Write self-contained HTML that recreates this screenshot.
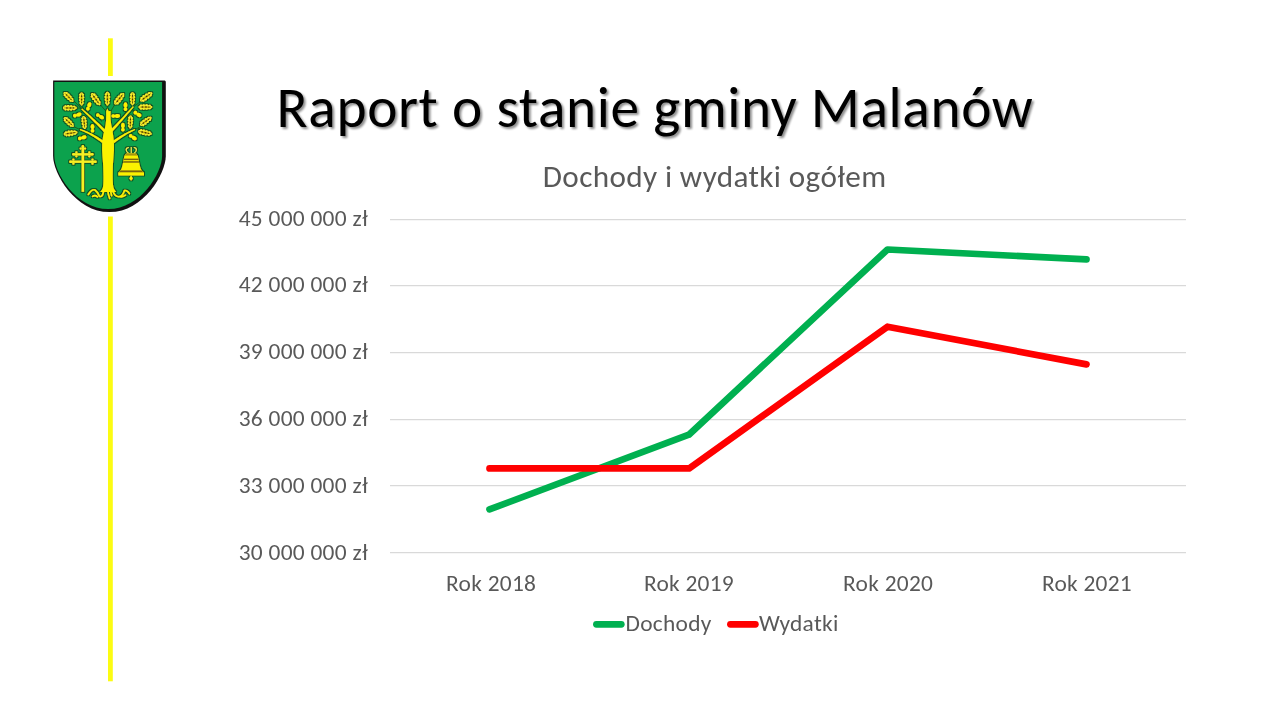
<!DOCTYPE html>
<html lang="pl">
<head>
<meta charset="utf-8">
<title>Raport o stanie gminy Malanów</title>
<style>
html,body{margin:0;padding:0;background:#fff;}
body{width:1280px;height:720px;position:relative;overflow:hidden;font-family:"Carlito","Liberation Sans",sans-serif;}
svg{position:absolute;left:0;top:0;will-change:transform;}
#main text{font-family:"Carlito","Liberation Sans",sans-serif;}
.t{font-size:57.3px;fill:#000;}
.c{font-size:31.2px;fill:#595959;}
.l{font-size:23.4px;fill:#595959;}
</style>
</head>
<body>
<svg id="main" width="1280" height="720" viewBox="0 0 1280 720">
  <defs>
    <filter id="sh" x="-5%" y="-20%" width="110%" height="150%">
      <feGaussianBlur in="SourceAlpha" stdDeviation="1.3"/>
      <feOffset dx="2" dy="2.2" result="b"/>
      <feComponentTransfer><feFuncA type="linear" slope="0.45"/></feComponentTransfer>
      <feMerge><feMergeNode/><feMergeNode in="SourceGraphic"/></feMerge>
    </filter>
  </defs>
  <!-- yellow vertical line -->
  <rect x="108" y="38.3" width="4.8" height="643" fill="#fcfc12"/>

  <!-- title -->
  <text class="t" x="276.6" y="126.8" filter="url(#sh)" textLength="756.14" lengthAdjust="spacing">Raport o stanie gminy Malanów</text>

  <!-- chart title -->
  <text class="c" x="542.8" y="186.6" textLength="343.31" lengthAdjust="spacing">Dochody i wydatki ogółem</text>

  <!-- gridlines -->
  <g stroke="#d9d9d9" stroke-width="1.25">
    <line x1="390" y1="219.5" x2="1186" y2="219.5"/>
    <line x1="390" y1="285.5" x2="1186" y2="285.5"/>
    <line x1="390" y1="352.5" x2="1186" y2="352.5"/>
    <line x1="390" y1="419.5" x2="1186" y2="419.5"/>
    <line x1="390" y1="485.5" x2="1186" y2="485.5"/>
    <line x1="390" y1="552.5" x2="1186" y2="552.5"/>
  </g>

  <!-- y axis labels -->
  <g class="l" text-anchor="end">
    <text x="367.7" y="225.6" textLength="128.98" lengthAdjust="spacing">45 000 000 zł</text>
    <text x="367.7" y="292.4" textLength="128.98" lengthAdjust="spacing">42 000 000 zł</text>
    <text x="367.7" y="359.2" textLength="128.98" lengthAdjust="spacing">39 000 000 zł</text>
    <text x="367.7" y="426" textLength="128.98" lengthAdjust="spacing">36 000 000 zł</text>
    <text x="367.7" y="492.8" textLength="128.98" lengthAdjust="spacing">33 000 000 zł</text>
    <text x="367.7" y="559.6" textLength="128.98" lengthAdjust="spacing">30 000 000 zł</text>
  </g>

  <!-- x axis labels -->
  <g class="l" text-anchor="middle">
    <text x="491" y="590.8" textLength="89.79" lengthAdjust="spacing">Rok 2018</text>
    <text x="688.8" y="590.8" textLength="89.79" lengthAdjust="spacing">Rok 2019</text>
    <text x="888" y="590.8" textLength="89.79" lengthAdjust="spacing">Rok 2020</text>
    <text x="1086.8" y="590.8" textLength="89.79" lengthAdjust="spacing">Rok 2021</text>
  </g>

  <!-- series -->
  <polyline fill="none" stroke="#00b050" stroke-width="6.7" stroke-linecap="round" stroke-linejoin="round"
    points="489.5,509.4 688.9,434.7 887.5,249.5 1086.5,259.4"/>
  <polyline fill="none" stroke="#ff0000" stroke-width="6.7" stroke-linecap="round" stroke-linejoin="round"
    points="489.5,468.4 689.1,468.4 887.5,326.7 1086.5,364.4"/>

  <!-- legend -->
  <line x1="596.4" y1="624.3" x2="621.3" y2="624.3" stroke="#00b050" stroke-width="6.7" stroke-linecap="round"/>
  <text class="l" x="625.6" y="630.6" textLength="85.75" lengthAdjust="spacing">Dochody</text>
  <line x1="730.4" y1="624.3" x2="755.4" y2="624.3" stroke="#ff0000" stroke-width="6.7" stroke-linecap="round"/>
  <text class="l" x="759" y="630.6" textLength="79.26" lengthAdjust="spacing">Wydatki</text>
</svg>

<!-- coat of arms -->
<svg id="herb" width="1280" height="720" viewBox="0 0 1280 720">
<defs><filter id="ol" x="-5%" y="-5%" width="110%" height="110%"><feMorphology in="SourceAlpha" operator="dilate" radius="0.55" result="d"/><feFlood flood-color="#0f4a1c" flood-opacity="0.9"/><feComposite in2="d" operator="in" result="o"/><feMerge><feMergeNode in="o"/><feMergeNode in="SourceGraphic"/></feMerge></filter></defs>
<g id="shield">
<rect x="46" y="76" width="126" height="140.5" fill="#fff"/>
<path d="M53.1,80.4 H164.6 Q165.8,80.4 165.8,82 V156 C165.8,173 143.9,212.1 109.45,212.1 C75,212.1 53.1,173 53.1,156 Z" fill="#111"/>
<path d="M54.3,82 H162.1 V156 C162.1,172.5 140.9,209.1 108.2,209.1 C75.5,209.1 54.3,172.5 54.3,156 Z" fill="#0ca24d"/>
<g fill="none" stroke="#1e5a16" stroke-width="0.9" stroke-linecap="round">
<path d="M83.5,108.2 L76.8,108"/>
<path d="M88.6,113 L88.3,110.5"/>
<path d="M101.5,121.3 L100.3,119"/>
<path d="M92.3,134.2 L92.4,132"/>
<path d="M80.2,130 L77.2,132"/>
<path d="M86.5,135 L85.5,136.3"/>
<path d="M138.3,106.8 L139.2,107"/>
<path d="M125.6,115 L125.5,111.2"/>
<path d="M132.6,110.2 L134.5,111.8"/>
<path d="M138.6,128.2 L139.3,131"/>
<path d="M122.8,135 L122.9,131.3"/>
<path d="M126.7,133.3 L129.2,135.3"/>
<path d="M82.2,109.5 L74.5,101.5"/>
<path d="M80.8,130 L75,127.2"/>
<path d="M132.6,107.4 L140,102"/>
<path d="M134.3,129.8 L139.5,127.2"/>
<path d="M107.4,109 L107.4,105.3"/>
<path d="M106.2,111.5 L100.2,104.6"/>
<path d="M110.6,111.5 L115,104.2"/>
<path d="M83.2,109 L81.8,105.6"/>
<path d="M132.4,109.8 L132.5,105.4"/>
<path d="M84.4,130.5 L84.3,129"/>
<path d="M130.4,131 L130.4,129"/>
</g>
<g filter="url(#ol)">
<path d="M106.2,111.2 L107.4,108.6 L108.6,111.2 L110.6,111 Q110.4,116 110.6,120 Q111.2,126 112.3,129.5 Q113.4,136 113.9,142 Q114.2,150 113.5,156 Q112.7,165 112.7,176 Q112.7,185 113.6,188 Q114.6,190.6 116.2,192 L100.2,192 Q101.8,190.6 102.8,188 Q103.6,185 103.5,176 Q103.4,165 102.5,156 Q101.9,150 102.2,143 Q103,135 104.6,129.5 Q105.9,125 106.1,120 Q106.3,116 106.2,111.2 Z" fill="#fbf205"/>
<path d="M106.53,131.10 L105.54,130.12 L104.55,129.14 L103.55,128.17 L102.55,127.20 L101.55,126.24 L100.54,125.28 L99.54,124.32 L98.53,123.36 L97.51,122.41 L96.50,121.47 L95.48,120.52 L94.47,119.58 L93.45,118.65 L92.42,117.72 L91.40,116.79 L90.37,115.86 L89.34,114.94 L88.31,114.02 L87.27,113.11 L86.24,112.20 L85.20,111.29 L84.16,110.39 L83.11,109.49 L82.07,108.59 L81.33,109.41 L82.33,110.35 L83.33,111.29 L84.33,112.24 L85.32,113.19 L86.32,114.15 L87.30,115.10 L88.29,116.06 L89.27,117.03 L90.26,117.99 L91.23,118.97 L92.21,119.94 L93.18,120.92 L94.15,121.90 L95.12,122.88 L96.09,123.87 L97.05,124.86 L98.01,125.85 L98.97,126.85 L99.93,127.85 L100.88,128.85 L101.83,129.86 L102.78,130.87 L103.72,131.89 L104.67,132.90 Z" fill="#fbf205"/>
<path d="M103.71,141.03 L102.73,140.35 L101.74,139.68 L100.76,139.02 L99.78,138.39 L98.79,137.76 L97.81,137.16 L96.83,136.57 L95.84,135.99 L94.86,135.44 L93.88,134.89 L92.90,134.37 L91.92,133.86 L90.94,133.36 L89.96,132.88 L88.98,132.42 L88.00,131.98 L87.02,131.54 L86.04,131.13 L85.06,130.73 L84.08,130.35 L83.11,129.98 L82.13,129.63 L81.16,129.30 L80.18,128.98 L79.82,130.02 L80.76,130.38 L81.70,130.76 L82.64,131.16 L83.58,131.57 L84.52,131.99 L85.46,132.43 L86.40,132.89 L87.34,133.36 L88.27,133.84 L89.21,134.35 L90.15,134.86 L91.08,135.39 L92.02,135.94 L92.95,136.50 L93.89,137.08 L94.82,137.67 L95.76,138.28 L96.69,138.90 L97.62,139.54 L98.56,140.20 L99.49,140.87 L100.42,141.55 L101.35,142.25 L102.29,142.97 Z" fill="#fbf205"/>
<path d="M111.75,132.39 L112.66,131.36 L113.57,130.34 L114.49,129.31 L115.40,128.28 L116.31,127.24 L117.22,126.20 L118.14,125.16 L119.05,124.12 L119.97,123.07 L120.88,122.03 L121.80,120.98 L122.71,119.92 L123.63,118.87 L124.54,117.81 L125.46,116.74 L126.37,115.68 L127.29,114.61 L128.21,113.54 L129.12,112.47 L130.04,111.39 L130.96,110.32 L131.88,109.23 L132.79,108.15 L133.71,107.06 L132.89,106.34 L131.92,107.38 L130.96,108.42 L130.00,109.46 L129.03,110.50 L128.07,111.53 L127.11,112.56 L126.14,113.59 L125.18,114.61 L124.22,115.63 L123.26,116.65 L122.30,117.67 L121.34,118.68 L120.38,119.69 L119.42,120.70 L118.46,121.70 L117.50,122.70 L116.55,123.70 L115.59,124.70 L114.63,125.69 L113.67,126.68 L112.72,127.67 L111.76,128.65 L110.80,129.63 L109.85,130.61 Z" fill="#fbf205"/>
<path d="M114.21,142.97 L115.15,142.25 L116.07,141.55 L116.99,140.86 L117.91,140.19 L118.82,139.54 L119.73,138.90 L120.63,138.27 L121.53,137.66 L122.42,137.07 L123.31,136.49 L124.19,135.93 L125.06,135.38 L125.94,134.85 L126.80,134.33 L127.67,133.83 L128.52,133.35 L129.37,132.88 L130.22,132.42 L131.06,131.98 L131.90,131.56 L132.73,131.15 L133.56,130.75 L134.39,130.37 L135.20,130.01 L134.80,128.99 L133.94,129.31 L133.08,129.64 L132.22,129.99 L131.35,130.36 L130.47,130.74 L129.59,131.14 L128.70,131.56 L127.81,131.99 L126.91,132.43 L126.01,132.90 L125.10,133.37 L124.19,133.87 L123.27,134.38 L122.34,134.90 L121.41,135.45 L120.47,136.00 L119.53,136.58 L118.58,137.17 L117.63,137.77 L116.67,138.39 L115.71,139.03 L114.74,139.68 L113.77,140.35 L112.79,141.03 Z" fill="#fbf205"/>
<g fill="none" stroke="#fbf205" stroke-width="1.6" stroke-linecap="round">
<path d="M88.3,194.5 Q92,188.8 95,190 Q97.3,191.5 99.4,196.3 Q102.5,197.5 103.5,191.5"/>
<path d="M92.6,196.4 Q95,194.8 97.5,196.8"/>
<path d="M113,191.5 Q114.8,196.5 119,196.8 Q122.5,196.6 124.5,190.6 Q127.2,189.8 129.4,193.7"/>
<path d="M121,197 Q123.5,196.5 125.5,195.2"/>
<path d="M107.8,191 Q108.4,195.5 109.7,198.4"/>
<path d="M110.6,191 L111.6,195.6"/>
</g>
<g transform="translate(68.6,97.0) rotate(45) scale(1.040,1.160)"><path d="M-6.3,0 C-6.1,-0.9 -5.6,-1.3 -5.0,-1.1 C-4.9,-2.4 -3.2,-2.6 -2.9,-1.2 C-2.6,-2.7 -0.5,-2.8 -0.3,-1.2 C0.1,-2.6 2.2,-2.6 2.4,-1.1 C3.0,-2.2 5.0,-2.0 5.1,-0.9 C5.6,-1.0 6.3,-0.6 6.3,0 C6.3,0.6 5.6,1.0 5.1,0.9 C5.0,2.0 3.0,2.2 2.4,1.1 C2.2,2.6 0.1,2.6 -0.3,1.2 C-0.5,2.8 -2.6,2.7 -2.9,1.2 C-3.2,2.6 -4.9,2.4 -5.0,1.1 C-5.6,1.3 -6.1,0.9 -6.3,0 Z" fill="#f7f02e"/><path d="M-4.6,0 Q-3,-1.2 0,-1.15 Q3,-1.1 4.7,0 Q3,1.1 0,1.15 Q-3,1.2 -4.6,0 Z" fill="#e6d20a"/><path d="M-5.4,0 L5.2,0" fill="none" stroke="#7a6a10" stroke-width="0.45"/><ellipse cx="-2.7" cy="0" rx="0.85" ry="0.6" fill="#4a3c06"/><ellipse cx="0.5" cy="0" rx="0.85" ry="0.6" fill="#4a3c06"/><ellipse cx="3.2" cy="0" rx="0.65" ry="0.5" fill="#4a3c06"/></g>
<g transform="translate(81.6,99.0) rotate(90) scale(1.040,1.160)"><path d="M-6.3,0 C-6.1,-0.9 -5.6,-1.3 -5.0,-1.1 C-4.9,-2.4 -3.2,-2.6 -2.9,-1.2 C-2.6,-2.7 -0.5,-2.8 -0.3,-1.2 C0.1,-2.6 2.2,-2.6 2.4,-1.1 C3.0,-2.2 5.0,-2.0 5.1,-0.9 C5.6,-1.0 6.3,-0.6 6.3,0 C6.3,0.6 5.6,1.0 5.1,0.9 C5.0,2.0 3.0,2.2 2.4,1.1 C2.2,2.6 0.1,2.6 -0.3,1.2 C-0.5,2.8 -2.6,2.7 -2.9,1.2 C-3.2,2.6 -4.9,2.4 -5.0,1.1 C-5.6,1.3 -6.1,0.9 -6.3,0 Z" fill="#f7f02e"/><path d="M-4.6,0 Q-3,-1.2 0,-1.15 Q3,-1.1 4.7,0 Q3,1.1 0,1.15 Q-3,1.2 -4.6,0 Z" fill="#e6d20a"/><path d="M-5.4,0 L5.2,0" fill="none" stroke="#7a6a10" stroke-width="0.45"/><ellipse cx="-2.7" cy="0" rx="0.85" ry="0.6" fill="#4a3c06"/><ellipse cx="0.5" cy="0" rx="0.85" ry="0.6" fill="#4a3c06"/><ellipse cx="3.2" cy="0" rx="0.65" ry="0.5" fill="#4a3c06"/></g>
<g transform="translate(95.8,99.2) rotate(54) scale(1.144,1.276)"><path d="M-6.3,0 C-6.1,-0.9 -5.6,-1.3 -5.0,-1.1 C-4.9,-2.4 -3.2,-2.6 -2.9,-1.2 C-2.6,-2.7 -0.5,-2.8 -0.3,-1.2 C0.1,-2.6 2.2,-2.6 2.4,-1.1 C3.0,-2.2 5.0,-2.0 5.1,-0.9 C5.6,-1.0 6.3,-0.6 6.3,0 C6.3,0.6 5.6,1.0 5.1,0.9 C5.0,2.0 3.0,2.2 2.4,1.1 C2.2,2.6 0.1,2.6 -0.3,1.2 C-0.5,2.8 -2.6,2.7 -2.9,1.2 C-3.2,2.6 -4.9,2.4 -5.0,1.1 C-5.6,1.3 -6.1,0.9 -6.3,0 Z" fill="#f7f02e"/><path d="M-4.6,0 Q-3,-1.2 0,-1.15 Q3,-1.1 4.7,0 Q3,1.1 0,1.15 Q-3,1.2 -4.6,0 Z" fill="#e6d20a"/><path d="M-5.4,0 L5.2,0" fill="none" stroke="#7a6a10" stroke-width="0.45"/><ellipse cx="-2.7" cy="0" rx="0.85" ry="0.6" fill="#4a3c06"/><ellipse cx="0.5" cy="0" rx="0.85" ry="0.6" fill="#4a3c06"/><ellipse cx="3.2" cy="0" rx="0.65" ry="0.5" fill="#4a3c06"/></g>
<g transform="translate(107.4,98.6) rotate(90) scale(1.092,1.218)"><path d="M-6.3,0 C-6.1,-0.9 -5.6,-1.3 -5.0,-1.1 C-4.9,-2.4 -3.2,-2.6 -2.9,-1.2 C-2.6,-2.7 -0.5,-2.8 -0.3,-1.2 C0.1,-2.6 2.2,-2.6 2.4,-1.1 C3.0,-2.2 5.0,-2.0 5.1,-0.9 C5.6,-1.0 6.3,-0.6 6.3,0 C6.3,0.6 5.6,1.0 5.1,0.9 C5.0,2.0 3.0,2.2 2.4,1.1 C2.2,2.6 0.1,2.6 -0.3,1.2 C-0.5,2.8 -2.6,2.7 -2.9,1.2 C-3.2,2.6 -4.9,2.4 -5.0,1.1 C-5.6,1.3 -6.1,0.9 -6.3,0 Z" fill="#f7f02e"/><path d="M-4.6,0 Q-3,-1.2 0,-1.15 Q3,-1.1 4.7,0 Q3,1.1 0,1.15 Q-3,1.2 -4.6,0 Z" fill="#e6d20a"/><path d="M-5.4,0 L5.2,0" fill="none" stroke="#7a6a10" stroke-width="0.45"/><ellipse cx="-2.7" cy="0" rx="0.85" ry="0.6" fill="#4a3c06"/><ellipse cx="0.5" cy="0" rx="0.85" ry="0.6" fill="#4a3c06"/><ellipse cx="3.2" cy="0" rx="0.65" ry="0.5" fill="#4a3c06"/></g>
<g transform="translate(69.9,107.9) rotate(0) scale(1.092,1.218)"><path d="M-6.3,0 C-6.1,-0.9 -5.6,-1.3 -5.0,-1.1 C-4.9,-2.4 -3.2,-2.6 -2.9,-1.2 C-2.6,-2.7 -0.5,-2.8 -0.3,-1.2 C0.1,-2.6 2.2,-2.6 2.4,-1.1 C3.0,-2.2 5.0,-2.0 5.1,-0.9 C5.6,-1.0 6.3,-0.6 6.3,0 C6.3,0.6 5.6,1.0 5.1,0.9 C5.0,2.0 3.0,2.2 2.4,1.1 C2.2,2.6 0.1,2.6 -0.3,1.2 C-0.5,2.8 -2.6,2.7 -2.9,1.2 C-3.2,2.6 -4.9,2.4 -5.0,1.1 C-5.6,1.3 -6.1,0.9 -6.3,0 Z" fill="#f7f02e"/><path d="M-4.6,0 Q-3,-1.2 0,-1.15 Q3,-1.1 4.7,0 Q3,1.1 0,1.15 Q-3,1.2 -4.6,0 Z" fill="#e6d20a"/><path d="M-5.4,0 L5.2,0" fill="none" stroke="#7a6a10" stroke-width="0.45"/><ellipse cx="-2.7" cy="0" rx="0.85" ry="0.6" fill="#4a3c06"/><ellipse cx="0.5" cy="0" rx="0.85" ry="0.6" fill="#4a3c06"/><ellipse cx="3.2" cy="0" rx="0.65" ry="0.5" fill="#4a3c06"/></g>
<g transform="translate(68.8,122.1) rotate(44) scale(1.040,1.160)"><path d="M-6.3,0 C-6.1,-0.9 -5.6,-1.3 -5.0,-1.1 C-4.9,-2.4 -3.2,-2.6 -2.9,-1.2 C-2.6,-2.7 -0.5,-2.8 -0.3,-1.2 C0.1,-2.6 2.2,-2.6 2.4,-1.1 C3.0,-2.2 5.0,-2.0 5.1,-0.9 C5.6,-1.0 6.3,-0.6 6.3,0 C6.3,0.6 5.6,1.0 5.1,0.9 C5.0,2.0 3.0,2.2 2.4,1.1 C2.2,2.6 0.1,2.6 -0.3,1.2 C-0.5,2.8 -2.6,2.7 -2.9,1.2 C-3.2,2.6 -4.9,2.4 -5.0,1.1 C-5.6,1.3 -6.1,0.9 -6.3,0 Z" fill="#f7f02e"/><path d="M-4.6,0 Q-3,-1.2 0,-1.15 Q3,-1.1 4.7,0 Q3,1.1 0,1.15 Q-3,1.2 -4.6,0 Z" fill="#e6d20a"/><path d="M-5.4,0 L5.2,0" fill="none" stroke="#7a6a10" stroke-width="0.45"/><ellipse cx="-2.7" cy="0" rx="0.85" ry="0.6" fill="#4a3c06"/><ellipse cx="0.5" cy="0" rx="0.85" ry="0.6" fill="#4a3c06"/><ellipse cx="3.2" cy="0" rx="0.65" ry="0.5" fill="#4a3c06"/></g>
<g transform="translate(84.2,122.6) rotate(84) scale(1.040,1.160)"><path d="M-6.3,0 C-6.1,-0.9 -5.6,-1.3 -5.0,-1.1 C-4.9,-2.4 -3.2,-2.6 -2.9,-1.2 C-2.6,-2.7 -0.5,-2.8 -0.3,-1.2 C0.1,-2.6 2.2,-2.6 2.4,-1.1 C3.0,-2.2 5.0,-2.0 5.1,-0.9 C5.6,-1.0 6.3,-0.6 6.3,0 C6.3,0.6 5.6,1.0 5.1,0.9 C5.0,2.0 3.0,2.2 2.4,1.1 C2.2,2.6 0.1,2.6 -0.3,1.2 C-0.5,2.8 -2.6,2.7 -2.9,1.2 C-3.2,2.6 -4.9,2.4 -5.0,1.1 C-5.6,1.3 -6.1,0.9 -6.3,0 Z" fill="#f7f02e"/><path d="M-4.6,0 Q-3,-1.2 0,-1.15 Q3,-1.1 4.7,0 Q3,1.1 0,1.15 Q-3,1.2 -4.6,0 Z" fill="#e6d20a"/><path d="M-5.4,0 L5.2,0" fill="none" stroke="#7a6a10" stroke-width="0.45"/><ellipse cx="-2.7" cy="0" rx="0.85" ry="0.6" fill="#4a3c06"/><ellipse cx="0.5" cy="0" rx="0.85" ry="0.6" fill="#4a3c06"/><ellipse cx="3.2" cy="0" rx="0.65" ry="0.5" fill="#4a3c06"/></g>
<g transform="translate(70.6,133.2) rotate(-8) scale(1.092,1.218)"><path d="M-6.3,0 C-6.1,-0.9 -5.6,-1.3 -5.0,-1.1 C-4.9,-2.4 -3.2,-2.6 -2.9,-1.2 C-2.6,-2.7 -0.5,-2.8 -0.3,-1.2 C0.1,-2.6 2.2,-2.6 2.4,-1.1 C3.0,-2.2 5.0,-2.0 5.1,-0.9 C5.6,-1.0 6.3,-0.6 6.3,0 C6.3,0.6 5.6,1.0 5.1,0.9 C5.0,2.0 3.0,2.2 2.4,1.1 C2.2,2.6 0.1,2.6 -0.3,1.2 C-0.5,2.8 -2.6,2.7 -2.9,1.2 C-3.2,2.6 -4.9,2.4 -5.0,1.1 C-5.6,1.3 -6.1,0.9 -6.3,0 Z" fill="#f7f02e"/><path d="M-4.6,0 Q-3,-1.2 0,-1.15 Q3,-1.1 4.7,0 Q3,1.1 0,1.15 Q-3,1.2 -4.6,0 Z" fill="#e6d20a"/><path d="M-5.4,0 L5.2,0" fill="none" stroke="#7a6a10" stroke-width="0.45"/><ellipse cx="-2.7" cy="0" rx="0.85" ry="0.6" fill="#4a3c06"/><ellipse cx="0.5" cy="0" rx="0.85" ry="0.6" fill="#4a3c06"/><ellipse cx="3.2" cy="0" rx="0.65" ry="0.5" fill="#4a3c06"/></g>
<g transform="translate(119.3,98.75) rotate(-51) scale(1.144,1.276)"><path d="M-6.3,0 C-6.1,-0.9 -5.6,-1.3 -5.0,-1.1 C-4.9,-2.4 -3.2,-2.6 -2.9,-1.2 C-2.6,-2.7 -0.5,-2.8 -0.3,-1.2 C0.1,-2.6 2.2,-2.6 2.4,-1.1 C3.0,-2.2 5.0,-2.0 5.1,-0.9 C5.6,-1.0 6.3,-0.6 6.3,0 C6.3,0.6 5.6,1.0 5.1,0.9 C5.0,2.0 3.0,2.2 2.4,1.1 C2.2,2.6 0.1,2.6 -0.3,1.2 C-0.5,2.8 -2.6,2.7 -2.9,1.2 C-3.2,2.6 -4.9,2.4 -5.0,1.1 C-5.6,1.3 -6.1,0.9 -6.3,0 Z" fill="#f7f02e"/><path d="M-4.6,0 Q-3,-1.2 0,-1.15 Q3,-1.1 4.7,0 Q3,1.1 0,1.15 Q-3,1.2 -4.6,0 Z" fill="#e6d20a"/><path d="M-5.4,0 L5.2,0" fill="none" stroke="#7a6a10" stroke-width="0.45"/><ellipse cx="-2.7" cy="0" rx="0.85" ry="0.6" fill="#4a3c06"/><ellipse cx="0.5" cy="0" rx="0.85" ry="0.6" fill="#4a3c06"/><ellipse cx="3.2" cy="0" rx="0.65" ry="0.5" fill="#4a3c06"/></g>
<g transform="translate(132.5,98.75) rotate(90) scale(1.040,1.160)"><path d="M-6.3,0 C-6.1,-0.9 -5.6,-1.3 -5.0,-1.1 C-4.9,-2.4 -3.2,-2.6 -2.9,-1.2 C-2.6,-2.7 -0.5,-2.8 -0.3,-1.2 C0.1,-2.6 2.2,-2.6 2.4,-1.1 C3.0,-2.2 5.0,-2.0 5.1,-0.9 C5.6,-1.0 6.3,-0.6 6.3,0 C6.3,0.6 5.6,1.0 5.1,0.9 C5.0,2.0 3.0,2.2 2.4,1.1 C2.2,2.6 0.1,2.6 -0.3,1.2 C-0.5,2.8 -2.6,2.7 -2.9,1.2 C-3.2,2.6 -4.9,2.4 -5.0,1.1 C-5.6,1.3 -6.1,0.9 -6.3,0 Z" fill="#f7f02e"/><path d="M-4.6,0 Q-3,-1.2 0,-1.15 Q3,-1.1 4.7,0 Q3,1.1 0,1.15 Q-3,1.2 -4.6,0 Z" fill="#e6d20a"/><path d="M-5.4,0 L5.2,0" fill="none" stroke="#7a6a10" stroke-width="0.45"/><ellipse cx="-2.7" cy="0" rx="0.85" ry="0.6" fill="#4a3c06"/><ellipse cx="0.5" cy="0" rx="0.85" ry="0.6" fill="#4a3c06"/><ellipse cx="3.2" cy="0" rx="0.65" ry="0.5" fill="#4a3c06"/></g>
<g transform="translate(146.2,96.8) rotate(-35) scale(1.144,1.276)"><path d="M-6.3,0 C-6.1,-0.9 -5.6,-1.3 -5.0,-1.1 C-4.9,-2.4 -3.2,-2.6 -2.9,-1.2 C-2.6,-2.7 -0.5,-2.8 -0.3,-1.2 C0.1,-2.6 2.2,-2.6 2.4,-1.1 C3.0,-2.2 5.0,-2.0 5.1,-0.9 C5.6,-1.0 6.3,-0.6 6.3,0 C6.3,0.6 5.6,1.0 5.1,0.9 C5.0,2.0 3.0,2.2 2.4,1.1 C2.2,2.6 0.1,2.6 -0.3,1.2 C-0.5,2.8 -2.6,2.7 -2.9,1.2 C-3.2,2.6 -4.9,2.4 -5.0,1.1 C-5.6,1.3 -6.1,0.9 -6.3,0 Z" fill="#f7f02e"/><path d="M-4.6,0 Q-3,-1.2 0,-1.15 Q3,-1.1 4.7,0 Q3,1.1 0,1.15 Q-3,1.2 -4.6,0 Z" fill="#e6d20a"/><path d="M-5.4,0 L5.2,0" fill="none" stroke="#7a6a10" stroke-width="0.45"/><ellipse cx="-2.7" cy="0" rx="0.85" ry="0.6" fill="#4a3c06"/><ellipse cx="0.5" cy="0" rx="0.85" ry="0.6" fill="#4a3c06"/><ellipse cx="3.2" cy="0" rx="0.65" ry="0.5" fill="#4a3c06"/></g>
<g transform="translate(145.4,107.1) rotate(0) scale(1.092,1.218)"><path d="M-6.3,0 C-6.1,-0.9 -5.6,-1.3 -5.0,-1.1 C-4.9,-2.4 -3.2,-2.6 -2.9,-1.2 C-2.6,-2.7 -0.5,-2.8 -0.3,-1.2 C0.1,-2.6 2.2,-2.6 2.4,-1.1 C3.0,-2.2 5.0,-2.0 5.1,-0.9 C5.6,-1.0 6.3,-0.6 6.3,0 C6.3,0.6 5.6,1.0 5.1,0.9 C5.0,2.0 3.0,2.2 2.4,1.1 C2.2,2.6 0.1,2.6 -0.3,1.2 C-0.5,2.8 -2.6,2.7 -2.9,1.2 C-3.2,2.6 -4.9,2.4 -5.0,1.1 C-5.6,1.3 -6.1,0.9 -6.3,0 Z" fill="#f7f02e"/><path d="M-4.6,0 Q-3,-1.2 0,-1.15 Q3,-1.1 4.7,0 Q3,1.1 0,1.15 Q-3,1.2 -4.6,0 Z" fill="#e6d20a"/><path d="M-5.4,0 L5.2,0" fill="none" stroke="#7a6a10" stroke-width="0.45"/><ellipse cx="-2.7" cy="0" rx="0.85" ry="0.6" fill="#4a3c06"/><ellipse cx="0.5" cy="0" rx="0.85" ry="0.6" fill="#4a3c06"/><ellipse cx="3.2" cy="0" rx="0.65" ry="0.5" fill="#4a3c06"/></g>
<g transform="translate(130.4,122.1) rotate(92) scale(1.040,1.160)"><path d="M-6.3,0 C-6.1,-0.9 -5.6,-1.3 -5.0,-1.1 C-4.9,-2.4 -3.2,-2.6 -2.9,-1.2 C-2.6,-2.7 -0.5,-2.8 -0.3,-1.2 C0.1,-2.6 2.2,-2.6 2.4,-1.1 C3.0,-2.2 5.0,-2.0 5.1,-0.9 C5.6,-1.0 6.3,-0.6 6.3,0 C6.3,0.6 5.6,1.0 5.1,0.9 C5.0,2.0 3.0,2.2 2.4,1.1 C2.2,2.6 0.1,2.6 -0.3,1.2 C-0.5,2.8 -2.6,2.7 -2.9,1.2 C-3.2,2.6 -4.9,2.4 -5.0,1.1 C-5.6,1.3 -6.1,0.9 -6.3,0 Z" fill="#f7f02e"/><path d="M-4.6,0 Q-3,-1.2 0,-1.15 Q3,-1.1 4.7,0 Q3,1.1 0,1.15 Q-3,1.2 -4.6,0 Z" fill="#e6d20a"/><path d="M-5.4,0 L5.2,0" fill="none" stroke="#7a6a10" stroke-width="0.45"/><ellipse cx="-2.7" cy="0" rx="0.85" ry="0.6" fill="#4a3c06"/><ellipse cx="0.5" cy="0" rx="0.85" ry="0.6" fill="#4a3c06"/><ellipse cx="3.2" cy="0" rx="0.65" ry="0.5" fill="#4a3c06"/></g>
<g transform="translate(145.8,121.3) rotate(-36) scale(1.092,1.218)"><path d="M-6.3,0 C-6.1,-0.9 -5.6,-1.3 -5.0,-1.1 C-4.9,-2.4 -3.2,-2.6 -2.9,-1.2 C-2.6,-2.7 -0.5,-2.8 -0.3,-1.2 C0.1,-2.6 2.2,-2.6 2.4,-1.1 C3.0,-2.2 5.0,-2.0 5.1,-0.9 C5.6,-1.0 6.3,-0.6 6.3,0 C6.3,0.6 5.6,1.0 5.1,0.9 C5.0,2.0 3.0,2.2 2.4,1.1 C2.2,2.6 0.1,2.6 -0.3,1.2 C-0.5,2.8 -2.6,2.7 -2.9,1.2 C-3.2,2.6 -4.9,2.4 -5.0,1.1 C-5.6,1.3 -6.1,0.9 -6.3,0 Z" fill="#f7f02e"/><path d="M-4.6,0 Q-3,-1.2 0,-1.15 Q3,-1.1 4.7,0 Q3,1.1 0,1.15 Q-3,1.2 -4.6,0 Z" fill="#e6d20a"/><path d="M-5.4,0 L5.2,0" fill="none" stroke="#7a6a10" stroke-width="0.45"/><ellipse cx="-2.7" cy="0" rx="0.85" ry="0.6" fill="#4a3c06"/><ellipse cx="0.5" cy="0" rx="0.85" ry="0.6" fill="#4a3c06"/><ellipse cx="3.2" cy="0" rx="0.65" ry="0.5" fill="#4a3c06"/></g>
<g transform="translate(145,132.6) rotate(12) scale(1.092,1.218)"><path d="M-6.3,0 C-6.1,-0.9 -5.6,-1.3 -5.0,-1.1 C-4.9,-2.4 -3.2,-2.6 -2.9,-1.2 C-2.6,-2.7 -0.5,-2.8 -0.3,-1.2 C0.1,-2.6 2.2,-2.6 2.4,-1.1 C3.0,-2.2 5.0,-2.0 5.1,-0.9 C5.6,-1.0 6.3,-0.6 6.3,0 C6.3,0.6 5.6,1.0 5.1,0.9 C5.0,2.0 3.0,2.2 2.4,1.1 C2.2,2.6 0.1,2.6 -0.3,1.2 C-0.5,2.8 -2.6,2.7 -2.9,1.2 C-3.2,2.6 -4.9,2.4 -5.0,1.1 C-5.6,1.3 -6.1,0.9 -6.3,0 Z" fill="#f7f02e"/><path d="M-4.6,0 Q-3,-1.2 0,-1.15 Q3,-1.1 4.7,0 Q3,1.1 0,1.15 Q-3,1.2 -4.6,0 Z" fill="#e6d20a"/><path d="M-5.4,0 L5.2,0" fill="none" stroke="#7a6a10" stroke-width="0.45"/><ellipse cx="-2.7" cy="0" rx="0.85" ry="0.6" fill="#4a3c06"/><ellipse cx="0.5" cy="0" rx="0.85" ry="0.6" fill="#4a3c06"/><ellipse cx="3.2" cy="0" rx="0.65" ry="0.5" fill="#4a3c06"/></g>
<path transform="translate(88.75,106.4) rotate(-70)" d="M-4.3,0 Q-4.3,-1.8 -2.6,-1.8 Q-1.1,-1.8 -1,-0.9 L-0.6,-0.9 Q-0.2,-1.9 1.7,-1.9 Q4.4,-1.8 4.4,0 Q4.4,1.8 1.7,1.9 Q-0.2,1.9 -0.6,0.9 L-1,0.9 Q-1.1,1.8 -2.6,1.8 Q-4.3,1.8 -4.3,0 Z" fill="#fbf205"/>
<path transform="translate(77.2,115) rotate(-15)" d="M-4.3,0 Q-4.3,-1.8 -2.6,-1.8 Q-1.1,-1.8 -1,-0.9 L-0.6,-0.9 Q-0.2,-1.9 1.7,-1.9 Q4.4,-1.8 4.4,0 Q4.4,1.8 1.7,1.9 Q-0.2,1.9 -0.6,0.9 L-1,0.9 Q-1.1,1.8 -2.6,1.8 Q-4.3,1.8 -4.3,0 Z" fill="#fbf205"/>
<path transform="translate(100,116.3) rotate(30)" d="M-4.3,0 Q-4.3,-1.8 -2.6,-1.8 Q-1.1,-1.8 -1,-0.9 L-0.6,-0.9 Q-0.2,-1.9 1.7,-1.9 Q4.4,-1.8 4.4,0 Q4.4,1.8 1.7,1.9 Q-0.2,1.9 -0.6,0.9 L-1,0.9 Q-1.1,1.8 -2.6,1.8 Q-4.3,1.8 -4.3,0 Z" fill="#fbf205"/>
<path transform="translate(92.5,128.3) rotate(-90)" d="M-4.3,0 Q-4.3,-1.8 -2.6,-1.8 Q-1.1,-1.8 -1,-0.9 L-0.6,-0.9 Q-0.2,-1.9 1.7,-1.9 Q4.4,-1.8 4.4,0 Q4.4,1.8 1.7,1.9 Q-0.2,1.9 -0.6,0.9 L-1,0.9 Q-1.1,1.8 -2.6,1.8 Q-4.3,1.8 -4.3,0 Z" fill="#fbf205"/>
<path transform="translate(82.2,137.8) rotate(-15)" d="M-4.3,0 Q-4.3,-1.8 -2.6,-1.8 Q-1.1,-1.8 -1,-0.9 L-0.6,-0.9 Q-0.2,-1.9 1.7,-1.9 Q4.4,-1.8 4.4,0 Q4.4,1.8 1.7,1.9 Q-0.2,1.9 -0.6,0.9 L-1,0.9 Q-1.1,1.8 -2.6,1.8 Q-4.3,1.8 -4.3,0 Z" fill="#fbf205"/>
<path transform="translate(125.5,106.7) rotate(-90)" d="M-4.3,0 Q-4.3,-1.8 -2.6,-1.8 Q-1.1,-1.8 -1,-0.9 L-0.6,-0.9 Q-0.2,-1.9 1.7,-1.9 Q4.4,-1.8 4.4,0 Q4.4,1.8 1.7,1.9 Q-0.2,1.9 -0.6,0.9 L-1,0.9 Q-1.1,1.8 -2.6,1.8 Q-4.3,1.8 -4.3,0 Z" fill="#fbf205"/>
<path transform="translate(115.7,116) rotate(0)" d="M-4.3,0 Q-4.3,-1.8 -2.6,-1.8 Q-1.1,-1.8 -1,-0.9 L-0.6,-0.9 Q-0.2,-1.9 1.7,-1.9 Q4.4,-1.8 4.4,0 Q4.4,1.8 1.7,1.9 Q-0.2,1.9 -0.6,0.9 L-1,0.9 Q-1.1,1.8 -2.6,1.8 Q-4.3,1.8 -4.3,0 Z" fill="#fbf205"/>
<path transform="translate(137.5,114) rotate(32)" d="M-4.3,0 Q-4.3,-1.8 -2.6,-1.8 Q-1.1,-1.8 -1,-0.9 L-0.6,-0.9 Q-0.2,-1.9 1.7,-1.9 Q4.4,-1.8 4.4,0 Q4.4,1.8 1.7,1.9 Q-0.2,1.9 -0.6,0.9 L-1,0.9 Q-1.1,1.8 -2.6,1.8 Q-4.3,1.8 -4.3,0 Z" fill="#fbf205"/>
<path transform="translate(122.9,127.2) rotate(-90)" d="M-4.3,0 Q-4.3,-1.8 -2.6,-1.8 Q-1.1,-1.8 -1,-0.9 L-0.6,-0.9 Q-0.2,-1.9 1.7,-1.9 Q4.4,-1.8 4.4,0 Q4.4,1.8 1.7,1.9 Q-0.2,1.9 -0.6,0.9 L-1,0.9 Q-1.1,1.8 -2.6,1.8 Q-4.3,1.8 -4.3,0 Z" fill="#fbf205"/>
<path transform="translate(132.8,137.2) rotate(32)" d="M-4.3,0 Q-4.3,-1.8 -2.6,-1.8 Q-1.1,-1.8 -1,-0.9 L-0.6,-0.9 Q-0.2,-1.9 1.7,-1.9 Q4.4,-1.8 4.4,0 Q4.4,1.8 1.7,1.9 Q-0.2,1.9 -0.6,0.9 L-1,0.9 Q-1.1,1.8 -2.6,1.8 Q-4.3,1.8 -4.3,0 Z" fill="#fbf205"/>
<g fill="#f6f022">
<rect x="81.6" y="147" width="2.5" height="44.8"/>
<rect x="73.6" y="153.2" width="18.6" height="2.25"/>
<rect x="70.4" y="160.6" width="25" height="2.25"/>
<circle cx="82.85" cy="146.20" r="1.25"/>
<circle cx="85.05" cy="148.60" r="1.15"/>
<circle cx="80.65" cy="148.60" r="1.15"/>
<circle cx="73.40" cy="154.30" r="1.25"/>
<circle cx="76.40" cy="152.30" r="1.15"/>
<circle cx="76.40" cy="156.30" r="1.15"/>
<circle cx="92.30" cy="154.30" r="1.25"/>
<circle cx="89.30" cy="156.30" r="1.15"/>
<circle cx="89.30" cy="152.30" r="1.15"/>
<circle cx="70.40" cy="161.70" r="1.25"/>
<circle cx="73.40" cy="159.70" r="1.15"/>
<circle cx="73.40" cy="163.70" r="1.15"/>
<circle cx="95.50" cy="161.70" r="1.25"/>
<circle cx="92.50" cy="163.70" r="1.15"/>
<circle cx="92.50" cy="159.70" r="1.15"/>
</g>
<path d="M126,153.7 Q131.1,152.6 136.2,153.7 L137.8,156 L139.6,165 Q140.4,169.4 142.5,171.4 L144,172.6 L144,175.5 L118.3,175.5 L118.3,172.6 L119.8,171.4 Q121.8,169.4 122.6,165 L124.4,156 Z" fill="#fbf205"/>
<path d="M131.1,175.2 L132.9,178.4 L131.1,180.8 L129.3,178.4 Z" fill="#fbf205"/>
<g fill="none" stroke="#f4f050" stroke-width="1.05" stroke-linecap="round"><path d="M128.4,147.6 Q126,148.2 126.2,150 Q126.5,151.8 128.1,152.9"/><path d="M131.3,147.4 L131.3,153"/><path d="M134.2,147.6 Q136.6,148.2 136.4,150 Q136.1,151.8 134.5,152.9"/></g>
</g>
<clipPath id="bc"><path d="M126,153.7 Q131.1,152.6 136.2,153.7 L137.8,156 L139.6,165 Q140.4,169.4 142.5,171.4 L144,172.6 L144,175.5 L118.3,175.5 L118.3,172.6 L119.8,171.4 Q121.8,169.4 122.6,165 L124.4,156 Z"/></clipPath>
<g clip-path="url(#bc)"><rect x="118" y="152" width="26" height="3.6" fill="#a89410"/><g fill="#7a6410"><rect x="118" y="158.6" width="26" height="1.5"/><rect x="118" y="161.2" width="26" height="1.5"/><rect x="118" y="170.4" width="26" height="1.9"/></g></g>
</g>
</svg>
</body>
</html>
